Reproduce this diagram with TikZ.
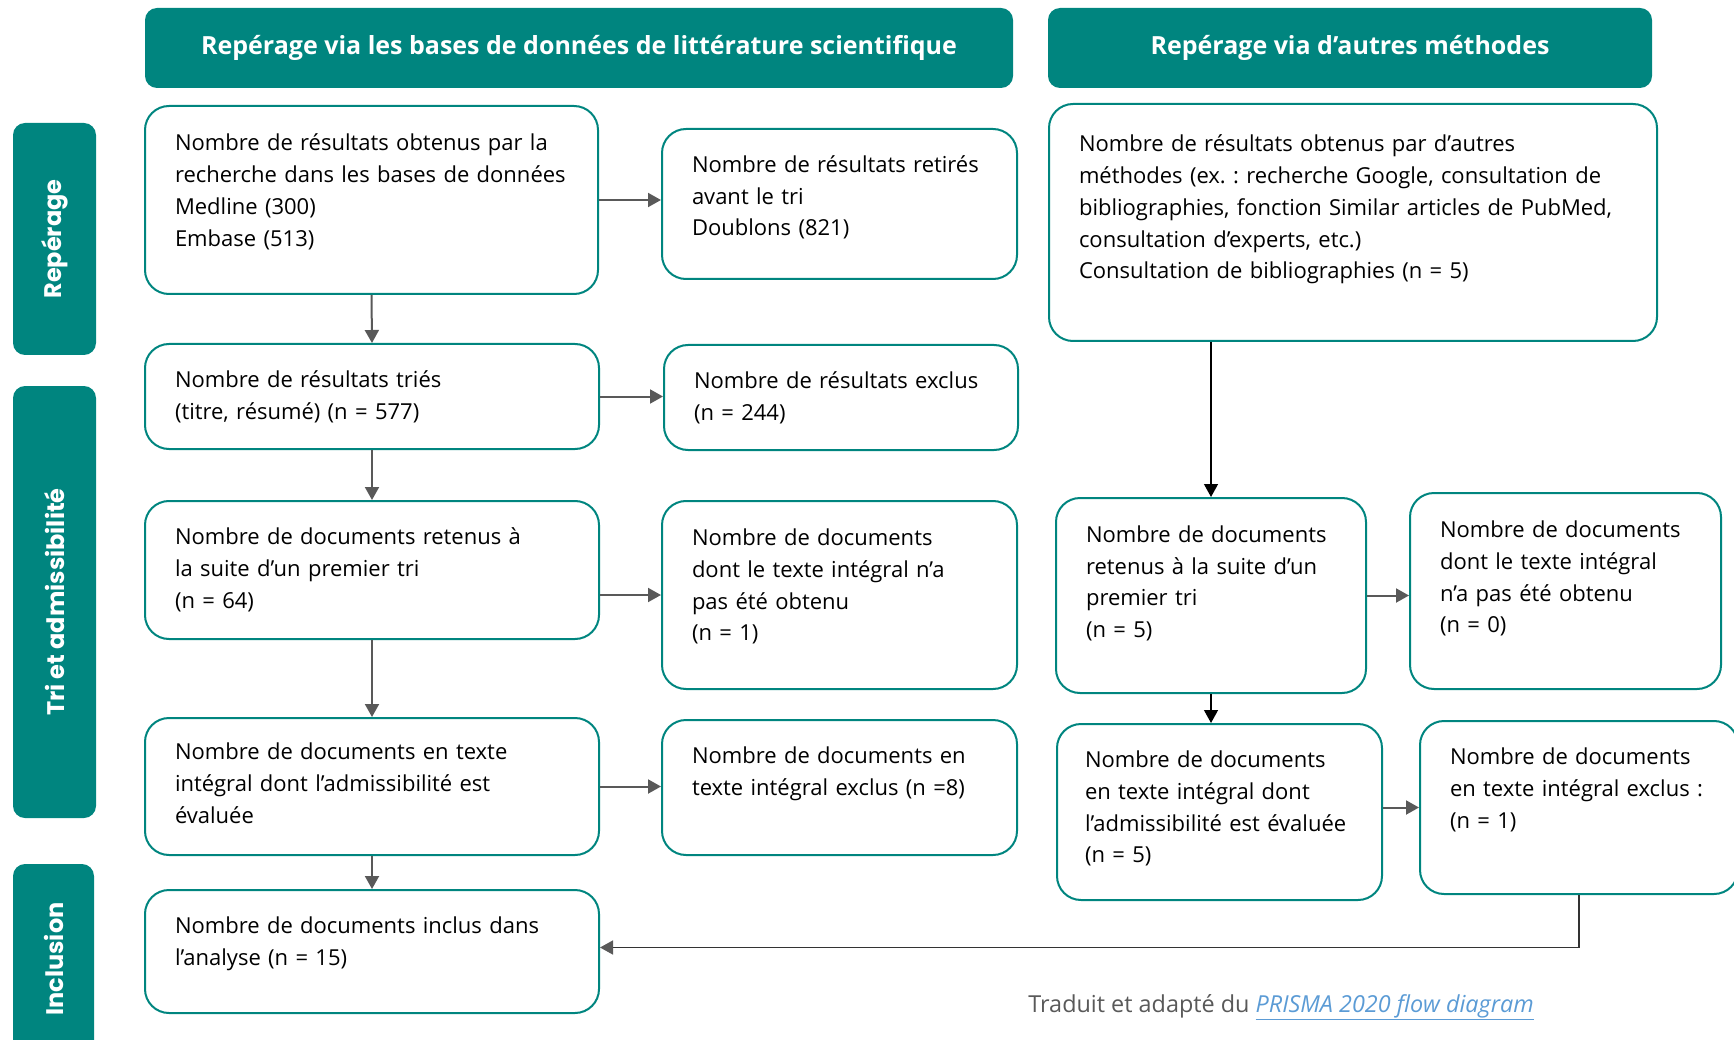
\documentclass[tikz,border=0pt]{standalone}
\usepackage{fontspec}
\setmainfont{Open Sans}
\newfontfamily\sidefont{Poppins}
\usetikzlibrary{arrows.meta}
\definecolor{pteal}{HTML}{00857F}
\definecolor{pgray}{HTML}{595959}
\definecolor{plink}{HTML}{5B9BD5}
\tikzstyle{cbox}=[rectangle, draw=pteal, line width=2pt, rounded corners=24pt, inner xsep=30pt, align=left, font=\fontsize{22}{31.7}\selectfont]
\tikzstyle{chead}=[rectangle, fill=pteal, rounded corners=12pt, text=white, minimum height=80pt, font=\bfseries\fontsize{25}{28}\selectfont]
\tikzstyle{cside}=[rectangle, fill=pteal, rounded corners=12pt, text=white, rotate=90, font=\sidefont\bfseries\fontsize{24}{26}\selectfont]
\tikzstyle{carr}=[-{Triangle[length=13pt,width=14pt]}, draw=pgray, fill=pgray, line width=2pt]
\tikzstyle{cblk}=[-{Triangle[length=13pt,width=14pt]}, draw=black, fill=black, line width=1.3pt]

\begin{document}
\frenchspacing
\begin{tikzpicture}[x=1pt, y=-1pt]
\useasboundingbox (0,0) rectangle (1734,1040);

% headers
\node[chead, minimum width=868pt] (h1) at (579,48) {Repérage via les bases de données de littérature scientifique};
\node[chead, minimum width=604pt] (h2) at (1350,48) {Repérage via d’autres méthodes};

% side labels
\node[cside, minimum width=232pt, minimum height=83pt] (s1) at (54.5,239) {Repérage};
\node[cside, minimum width=432pt, minimum height=83pt] (s2) at (54.5,602) {Tri et admissibilité};
\node[cside, minimum width=190pt, minimum height=81pt] (s3) at (53.5,959) {Inclusion};

% databases (text depth lifts the text a little)
\node[cbox, text width=393pt, minimum height=188pt, text depth=115pt] (b1) at (371.5,200) {Nombre de résultats obtenus par la\\recherche dans les bases de données\\Medline (300)\\Embase (513)};
\node[cbox, text width=295pt, minimum height=150pt, text depth=80pt] (b2) at (839.5,204) {Nombre de résultats retirés\\avant le tri\\Doublons (821)};
\node[cbox, text width=394pt, minimum height=105pt] (b3) at (372,396.5) {Nombre de résultats triés\\(titre, résumé) (n = 577)};
\node[cbox, text width=294pt, minimum height=105pt] (b4) at (841,397.5) {Nombre de résultats exclus\\(n = 244)};
\node[cbox, text width=394pt, minimum height=138pt] (b5) at (372,570) {Nombre de documents retenus à\\la suite d’un premier tri\\(n = 64)};
\node[cbox, text width=295pt, minimum height=188pt, text depth=115pt] (b6) at (839.5,595) {Nombre de documents\\dont le texte intégral n’a\\pas été obtenu\\(n = 1)};
\node[cbox, text width=394pt, minimum height=137pt, text depth=70pt] (b7) at (372,786.5) {Nombre de documents en texte\\intégral dont l’admissibilité est\\évaluée};
\node[cbox, text width=295pt, minimum height=135pt, text depth=65pt] (b8) at (839.5,787.5) {Nombre de documents en\\texte intégral exclus (n =8)};
\node[cbox, text width=394pt, minimum height=123pt, text depth=53pt] (b9) at (372,951.5) {Nombre de documents inclus dans\\l’analyse (n = 15)};

% other methods
\node[cbox, text width=548pt, minimum height=237pt, text depth=158pt] (r1) at (1353,222.5) {Nombre de résultats obtenus par d’autres\\méthodes (ex. : recherche Google, consultation de\\bibliographies, fonction Similar articles de PubMed,\\consultation d’experts, etc.)\\Consultation de bibliographies (n = 5)};
\node[cbox, text width=250pt, minimum height=195pt, text depth=123pt] (r2) at (1211,595.5) {Nombre de documents\\retenus à la suite d’un\\premier tri\\(n = 5)};
\node[cbox, text width=251pt, minimum height=196pt, text depth=123pt] (r3) at (1565.5,591) {Nombre de documents\\dont le texte intégral\\n’a pas été obtenu\\(n = 0)};
\node[cbox, text width=269pt, inner xsep=28pt, minimum height=176pt, text depth=105pt] (r4) at (1219.5,812) {Nombre de documents\\en texte intégral dont\\l’admissibilité est évaluée\\(n = 5)};
\node[cbox, text width=258pt, minimum height=173pt, text depth=102pt] (r5) at (1579,807.5) {Nombre de documents\\en texte intégral exclus :\\(n = 1)};

% source
\node[text=pgray, font=\fontsize{23.4}{26}\selectfont] (src) at (1281,1007) {Traduit et adapté du {\color{plink}\underline{\textit{PRISMA 2020 flow diagram}}}};

% connectors
\draw[carr] (b1.east) -- (b1.east -| b2.west);
\draw[carr] (b1.south) -- (b3.north);
\draw[carr] (b3.east) -- (b3.east -| b4.west);
\draw[carr] (b3.south) -- (b5.north);
\draw[carr] (b5.east |- b6.west) -- (b6.west);
\draw[carr] (b5.south) -- (b7.north);
\draw[carr] (b7.east) -- (b7.east -| b8.west);
\draw[carr] (b7.south) -- (b9.north);

\draw[cblk] (r2.north |- r1.south) -- (r2.north);
\draw[carr] (r2.east) -- (r2.east -| r3.west);
\draw[cblk] (r2.south) -- (r2.south |- r4.north);
\draw[carr] (r4.east |- r5.west) -- (r5.west);
\draw[line width=1.5pt, draw=black!80, -{Triangle[length=13pt,width=14pt,color=pgray]}] (r5.south) |- ([yshift=4pt]b9.east);

\end{tikzpicture}
\end{document}
